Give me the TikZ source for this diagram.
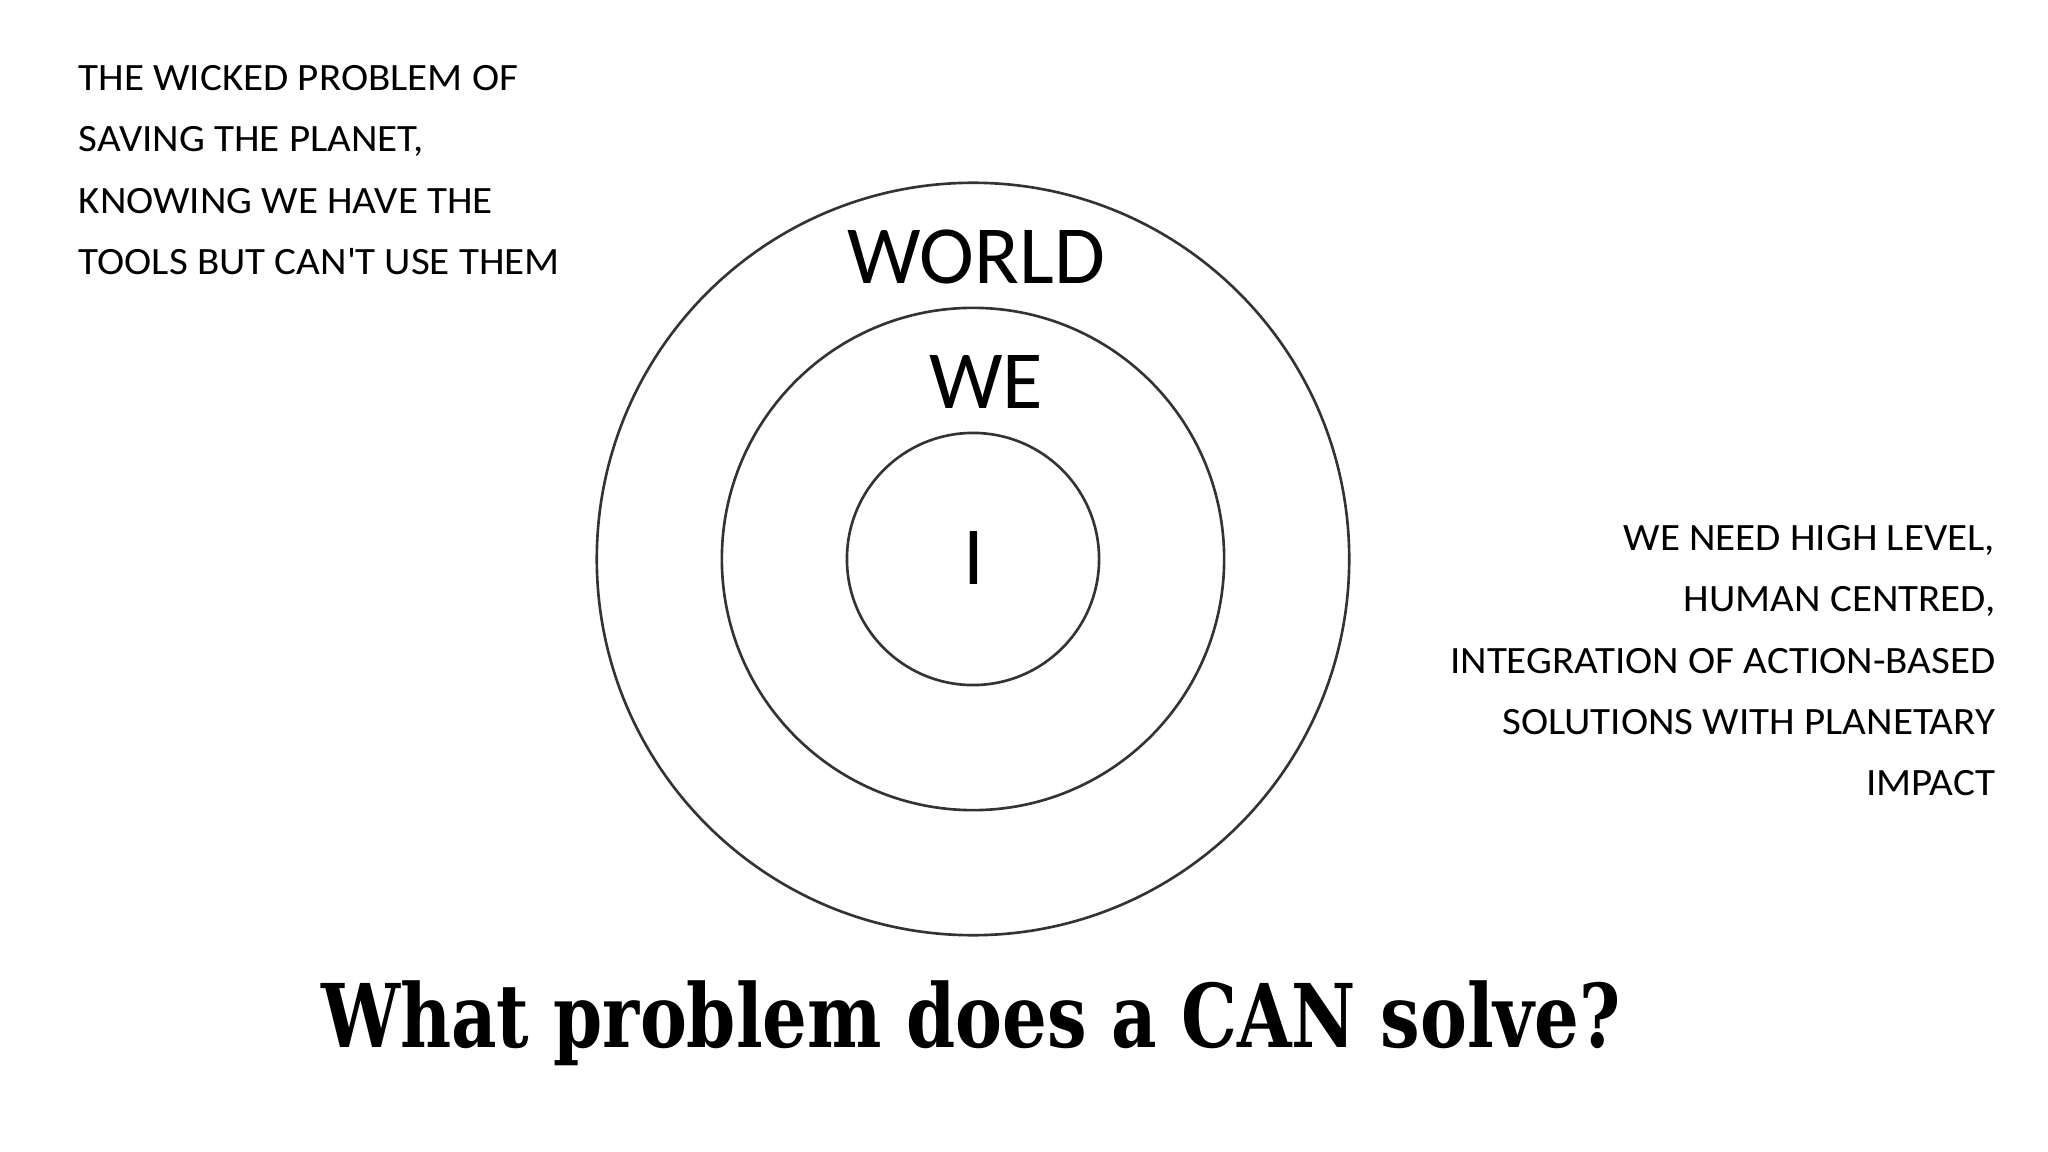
\documentclass[tikz,border=0pt]{standalone}
\usepackage{fontspec}
\setmainfont{Carlito}
\newfontfamily\notefont[FakeStretch=1.06]{Carlito}
\newfontfamily\titlefont[FakeStretch=0.8]{DejaVu Serif}
\usepackage{tikz}
\usetikzlibrary{positioning}

\begin{document}
\begin{tikzpicture}[x=0.01cm,y=-0.01cm]
 \tikzset{ring/.style={circle,draw=black!80,line width=0.75pt,inner sep=0pt},
   level/.style={font=\fontsize{23.5}{28}\selectfont,inner sep=0pt},
   note/.style={font=\notefont\fontsize{11}{17.4}\selectfont,inner sep=0pt}}
 \useasboundingbox (0,0) rectangle (2048,1152);

 \node[ring,minimum size=7.52cm] (world) at (973,559) {};
 \node[ring,minimum size=5.02cm] (we) at (973,559) {};
 \node[ring,minimum size=2.52cm] (me) at (973,559) {};

 \node[level] (worldlabel) at (976,257) {WORLD};
 \node[level] (welabel) at (986,382) {WE};
 \node[level] (melabel) at (974,558) {I};

 \node[note,align=left,anchor=north west] (wicked) at (78,65)
   {THE WICKED PROBLEM OF\\SAVING THE PLANET,\\KNOWING WE HAVE THE\\TOOLS BUT CAN\textquotesingle T USE THEM};
 \node[note,align=right,anchor=north east] (need) at (1996,525)
   {WE NEED HIGH LEVEL,\\HUMAN CENTRED,\\INTEGRATION OF ACTION-BASED\\SOLUTIONS WITH PLANETARY\\IMPACT};

 \node[anchor=base,inner sep=0pt,font=\titlefont\bfseries\fontsize{25}{30}\selectfont] (question) at (971,1047)
   {What problem does a CAN solve?};
\end{tikzpicture}
\end{document}
